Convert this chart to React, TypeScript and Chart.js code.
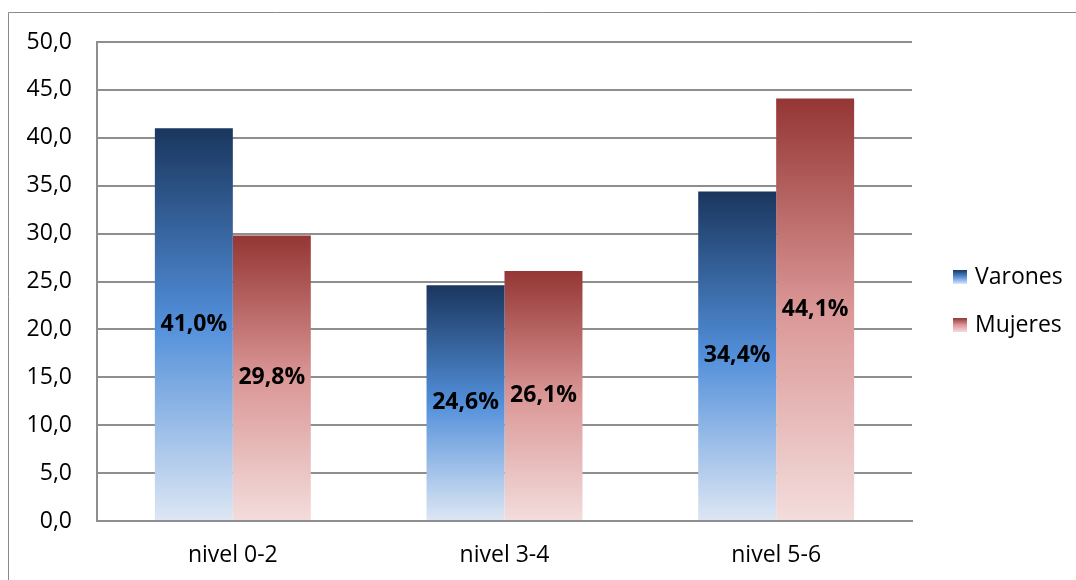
import React, { useEffect, useRef } from "react";
import { Chart, registerables } from "chart.js";

Chart.register(...registerables);

const categories = ["nivel 0-2", "nivel 3-4", "nivel 5-6"];
const varones = [41.0, 24.6, 34.4];
const mujeres = [29.8, 26.1, 44.1];
const seriesNames = ["Varones", "Mujeres"];
const yTicks = [0, 5, 10, 15, 20, 25, 30, 35, 40, 45, 50];

const FONT = "'Open Sans', 'Noto Sans', sans-serif";
const GRID = "#8e8e8e";

// gradient stops per series: dark at the top of a bar, pale at its base
const blueStops: [number, string][] = [
  [0, "#1a365e"],
  [0.5, "#528fda"],
  [1, "#dde7f4"],
];
const redStops: [number, string][] = [
  [0, "#943634"],
  [0.5, "#da9796"],
  [1, "#f3dddc"],
];

function makeGradient(c: CanvasRenderingContext2D, top: number, bottom: number, stops: [number, string][]) {
  const g = c.createLinearGradient(0, top, 0, bottom);
  stops.forEach(([o, col]) => g.addColorStop(o, col));
  return g;
}

function barFill(stops: [number, string][]) {
  return (ctx: any) => {
    const chart = ctx.chart;
    if (!chart.chartArea || ctx.type !== "data") return stops[1][1];
    const y = chart.scales.y;
    const top = y.getPixelForValue(ctx.raw);
    const bottom = y.getPixelForValue(0);
    if (!isFinite(top) || !isFinite(bottom) || top === bottom) return stops[1][1];
    return makeGradient(chart.ctx, top, bottom, stops);
  };
}

const fmt = (v: number) => v.toFixed(1).replace(".", ",");

const frame = {
  id: "frame",
  beforeDraw(chart: any) {
    const c = chart.ctx;
    c.save();
    c.fillStyle = "#ffffff";
    c.fillRect(0, 0, chart.width, chart.height);
    c.strokeStyle = "#8a8a8a";
    c.lineWidth = 1;
    c.beginPath();
    c.moveTo(8.5, chart.height);
    c.lineTo(8.5, 12.5);
    c.lineTo(chart.width, 12.5);
    c.stroke();
    c.restore();
  },
};

const valueLabels = {
  id: "valueLabels",
  afterDatasetsDraw(chart: any) {
    const c = chart.ctx;
    c.save();
    c.font = `bold 23px ${FONT}`;
    c.fillStyle = "#000000";
    c.textAlign = "center";
    c.textBaseline = "middle";
    chart.data.datasets.forEach((ds: any, di: number) => {
      const meta = chart.getDatasetMeta(di);
      meta.data.forEach((bar: any, i: number) => {
        const { x, y, base } = bar.getProps(["x", "y", "base"], true);
        c.fillText(fmt(ds.data[i]) + "%", x, (y + base) / 2);
      });
    });
    c.restore();
  },
};

const sideLegend = {
  id: "sideLegend",
  afterDraw(chart: any) {
    const c = chart.ctx;
    const entries: [string, [number, string][]][] = [
      [seriesNames[0], blueStops],
      [seriesNames[1], redStops],
    ];
    c.save();
    c.font = `23px ${FONT}`;
    c.textAlign = "left";
    c.textBaseline = "middle";
    entries.forEach(([name, stops], i) => {
      const cy = 277 + i * 48;
      const bx = 953;
      const size = 14;
      c.fillStyle = makeGradient(c, cy - size / 2, cy + size / 2, [
        [0, stops[0][1]],
        [0.5, stops[1][1]],
        [1, stops[2][1]],
      ]);
      c.fillRect(bx, cy - size / 2, size, size);
      c.fillStyle = "#000000";
      c.fillText(name, bx + size + 8, cy);
    });
    c.restore();
  },
};

export default function App() {
  const ref = useRef<HTMLCanvasElement | null>(null);

  useEffect(() => {
    if (!ref.current) return;
    const chart = new Chart(ref.current, {
      type: "bar",
      data: {
        labels: categories,
        datasets: [
          {
            label: seriesNames[0],
            data: varones,
            backgroundColor: barFill(blueStops),
            borderWidth: 0,
          },
          {
            label: seriesNames[1],
            data: mujeres,
            backgroundColor: barFill(redStops),
            borderWidth: 0,
          },
        ],
      },
      options: {
        responsive: false,
        animation: false,
        devicePixelRatio: 1,
        layout: { padding: { top: 42, left: 0, right: 164, bottom: 0 } },
        datasets: {
          bar: { categoryPercentage: 0.574, barPercentage: 1 },
        },
        plugins: {
          legend: { display: false },
          tooltip: { enabled: false },
        },
        scales: {
          x: {
            grid: { display: false, drawTicks: false },
            border: { display: true, color: GRID, width: 2 },
            ticks: {
              color: "#000000",
              padding: 21,
              font: { family: FONT, size: 23 },
            },
            afterFit: (s: any) => {
              s.height = 59;
            },
          },
          y: {
            min: 0,
            max: 50,
            grid: { color: GRID, lineWidth: 2, drawTicks: false },
            border: { display: true, color: GRID, width: 2 },
            afterBuildTicks: (s: any) => {
              s.ticks = yTicks.map((v) => ({ value: v }));
            },
            ticks: {
              color: "#000000",
              padding: 25,
              font: { family: FONT, size: 23 },
              callback: (v: any) => fmt(Number(v)),
            },
            afterFit: (s: any) => {
              s.width = 97;
            },
          },
        },
      },
      plugins: [frame, valueLabels, sideLegend],
    });
    return () => chart.destroy();
  }, []);

  return (
    <div style={{ position: "fixed", left: 0, top: 0, width: 1076, height: 580, background: "#fff" }}>
      <canvas ref={ref} width={1076} height={580} style={{ display: "block", width: 1076, height: 580 }} />
    </div>
  );
}
